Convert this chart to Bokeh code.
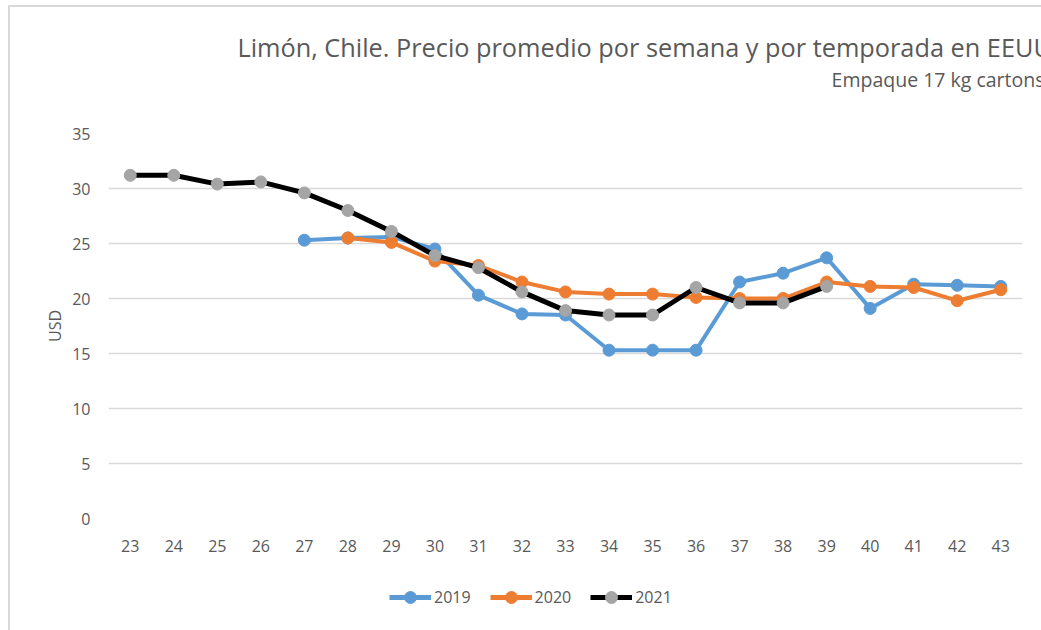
from bokeh.plotting import figure
from bokeh.layouts import column
from bokeh.models import Legend, LegendItem, Range1d, FixedTicker, SingleIntervalTicker, Title
from bokeh.embed import file_html
from bokeh.resources import INLINE

weeks = list(range(23, 44))
weeks_2019 = list(range(27, 44))
vals_2019 = [25.3, 25.5, 25.6, 24.5, 20.3, 18.6, 18.5, 15.3, 15.3, 15.3, 21.5, 22.3, 23.7, 19.1, 21.3, 21.2, 21.1]
weeks_2020 = list(range(28, 44))
vals_2020 = [25.5, 25.1, 23.4, 23.0, 21.5, 20.6, 20.4, 20.4, 20.1, 20.0, 20.0, 21.5, 21.1, 21.0, 19.8, 20.8]
weeks_2021 = list(range(23, 40))
vals_2021 = [31.2, 31.2, 30.4, 30.6, 29.6, 28.0, 26.1, 23.9, 22.8, 20.6, 18.9, 18.5, 18.5, 21.0, 19.6, 19.6, 21.1]
series_names = ["2019", "2020", "2021"]

title_text = "Limón, Chile. Precio promedio por semana y por temporada en EEUU"
subtitle_text = "Empaque 17 kg cartons"
y_label = "USD"

FONT = "Open Sans"
TXT = "#595959"
BLUE = "#5B9BD5"
ORANGE = "#ED7D31"
GRAY = "#A5A5A5"

p = figure(width=1031, height=560, output_backend="svg", toolbar_location=None, title=None,
           x_range=Range1d(22.5, 43.5), y_range=Range1d(0, 35),
           frame_width=914, frame_height=385,
           min_border_left=98, min_border_right=19, min_border_top=126, min_border_bottom=49)
p.outline_line_color = None
p.background_fill_color = "white"
p.border_fill_color = "white"

p.xgrid.grid_line_color = None
p.ygrid.grid_line_color = "#d9d9d9"
p.ygrid.grid_line_width = 1.3

p.xaxis.ticker = FixedTicker(ticks=weeks)
p.yaxis.ticker = SingleIntervalTicker(interval=5)
for ax in (p.xaxis[0], p.yaxis[0]):
    ax.axis_line_color = None
    ax.major_tick_line_color = None
    ax.minor_tick_line_color = None
    ax.major_label_text_font = FONT
    ax.major_label_text_font_size = "16px"
    ax.major_label_text_color = TXT
p.yaxis.major_label_standoff = 12
p.xaxis.major_label_standoff = 15
p.yaxis.axis_label = y_label
p.yaxis.axis_label_text_font = FONT
p.yaxis.axis_label_text_font_size = "16px"
p.yaxis.axis_label_text_font_style = "normal"
p.yaxis.axis_label_text_color = TXT
p.yaxis.axis_label_standoff = 3

def draw(fig, xs, ys, line_color, marker_color, lw):
    l = fig.line(xs, ys, line_color=line_color, line_width=lw)
    s = fig.scatter(xs, ys, marker="circle", size=12, fill_color=marker_color, line_color=marker_color)
    return l, s

l19, s19 = draw(p, weeks_2019, vals_2019, BLUE, BLUE, 4)
l20, s20 = draw(p, weeks_2020, vals_2020, ORANGE, ORANGE, 4)
l21, s21 = draw(p, weeks_2021, vals_2021, "black", GRAY, 5)

p.add_layout(Title(text=subtitle_text, align="right", offset=-22, standoff=82,
                   text_font=FONT, text_font_size="19.5px", text_color=TXT,
                   text_font_style="normal"), "above")
p.add_layout(Title(text=title_text, align="left", offset=129, standoff=-82,
                   text_font=FONT, text_font_size="25.3px", text_color=TXT,
                   text_font_style="normal"), "above")

# legend strip below the chart
lg = figure(width=1031, height=63, output_backend="svg", toolbar_location=None, title=None,
            x_axis_type=None, y_axis_type=None, x_range=Range1d(22.5, 43.5), y_range=Range1d(100, 101),
            min_border=0)
lg.outline_line_color = None
lg.xgrid.visible = False
lg.ygrid.visible = False
g19 = draw(lg, weeks_2019, vals_2019, BLUE, BLUE, 5)
g20 = draw(lg, weeks_2020, vals_2020, ORANGE, ORANGE, 5)
g21 = draw(lg, weeks_2021, vals_2021, "black", GRAY, 5)
for r in (*g19, *g20, *g21):
    r.visible = False

legend = Legend(items=[LegendItem(label=series_names[0], renderers=list(g19)),
                       LegendItem(label=series_names[1], renderers=list(g20)),
                       LegendItem(label=series_names[2], renderers=list(g21))],
                orientation="horizontal", location=(281, 18),
                glyph_width=42, glyph_height=30, label_height=20, label_standoff=3,
                spacing=19, padding=0, margin=0,
                label_text_font=FONT, label_text_font_size="16px", label_text_color=TXT,
                border_line_color=None, background_fill_alpha=0)
lg.add_layout(legend, "center")

layout = column(p, lg, spacing=0,
                styles={"border-left": "2px solid #d9d9d9", "border-top": "2px solid #d9d9d9",
                        "margin-left": "8px", "margin-top": "5px"})

open("out.html", "w").write(file_html(layout, INLINE))
